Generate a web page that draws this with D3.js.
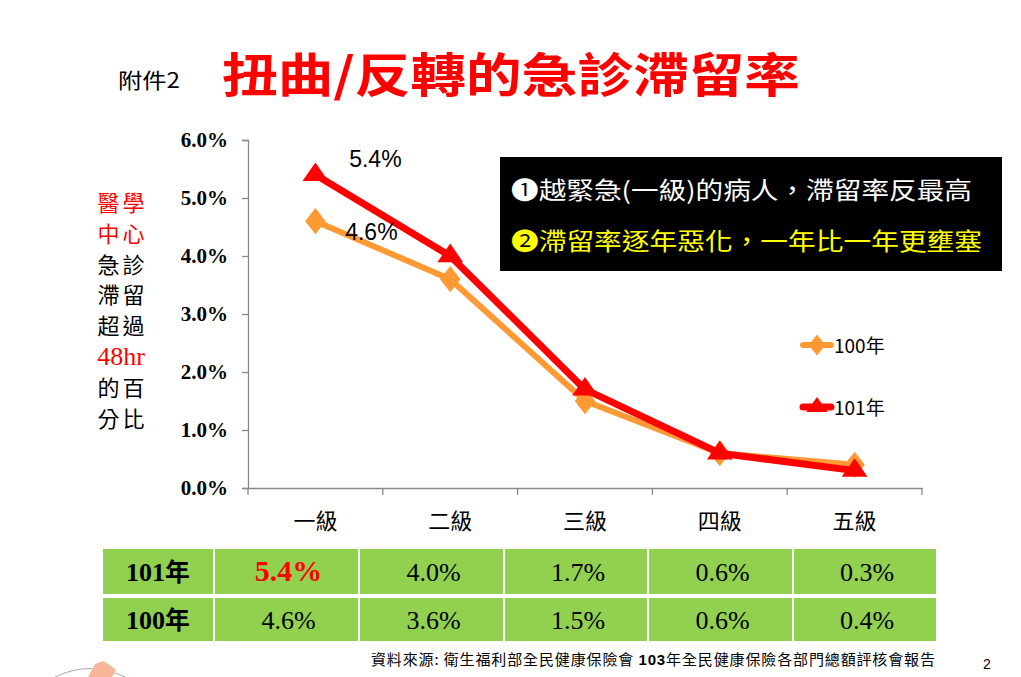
<!DOCTYPE html>
<html><head><meta charset="utf-8">
<script src="https://cdn.jsdelivr.net/npm/d3@7"></script>
<style>
html,body{margin:0;padding:0;background:#fff;}
svg{display:block;}
</style>
</head><body>
<svg id="c" width="1021" height="677"></svg>
<script>
const categories = ["一級","二級","三級","四級","五級"];
const series100 = [4.6, 3.6, 1.5, 0.6, 0.4];
const series101 = [5.4, 4.0, 1.7, 0.6, 0.3];
const yTicks = [0, 1, 2, 3, 4, 5, 6];
const seriesNames = ["100年","101年"];
const tableRows = [
  {name:"101年", values: series101},
  {name:"100年", values: series100}
];

const CJK = "'Noto Sans CJK TC','Noto Sans CJK SC',sans-serif";
const SERIF = "'Liberation Serif','DejaVu Serif',serif";
const SANS = "'Liberation Sans',Arial,sans-serif";

const svg = d3.select("#c");

// Titles
svg.append("text").attr("x",118).attr("y",88).attr("font-family",CJK)
  .attr("font-size",21).attr("fill","#000")
  .attr("textLength",62).attr("lengthAdjust","spacingAndGlyphs").text("附件2");
svg.append("text").attr("x",222).attr("y",92).attr("font-family",CJK)
  .attr("font-weight","bold").attr("font-size",47).attr("fill","#FF0000")
  .attr("textLength",578).attr("lengthAdjust","spacingAndGlyphs").text("扭曲/反轉的急診滯留率");

// Scales
const x = d3.scaleBand().domain(categories).range([248, 922]).paddingInner(0).paddingOuter(0);
const y = d3.scaleLinear().domain([0, 6]).range([488, 140]);
const cx = d => x(d) + x.bandwidth()/2;

// Y axis
const yAxis = d3.axisLeft(y).tickValues(yTicks).tickSize(6).tickPadding(14)
  .tickFormat(d => d3.format(".1f")(d) + "%");
const gy = svg.append("g").attr("transform","translate(248,0)").call(yAxis);
gy.select(".domain").attr("stroke","#888").attr("stroke-width",1.3);
gy.selectAll(".tick line").attr("stroke","#888").attr("stroke-width",1.3);
gy.selectAll(".tick text").attr("font-family",SERIF).attr("font-weight","bold")
  .attr("font-size",21).attr("fill","#000");

// X axis
const xAxis = d3.axisBottom(x).tickSize(0).tickPadding(25);
const gx = svg.append("g").attr("transform","translate(0,488)").call(xAxis);
gx.select(".domain").attr("stroke","#888").attr("stroke-width",1.3);
gx.selectAll(".tick text").attr("font-family",CJK).attr("font-size",22).attr("fill","#000");
// category boundary ticks
const bounds = categories.map(c => x(c)).concat([x.range()[1]]);
svg.append("g").selectAll("line").data(bounds).join("line")
  .attr("x1",d=>d).attr("x2",d=>d).attr("y1",488).attr("y2",495)
  .attr("stroke","#888").attr("stroke-width",1.3);

// Lines
const line = d3.line().x((d,i)=>cx(categories[i])).y(d=>y(d));
const ORANGE = "#FF9933", RED = "#FF0000";
svg.append("path").datum(series100).attr("d",line).attr("fill","none")
  .attr("stroke",ORANGE).attr("stroke-width",6).attr("stroke-linejoin","round");
const diamond = d3.symbol().type(d3.symbolDiamond).size(200);
svg.append("g").selectAll("path").data(series100).join("path")
  .attr("d",diamond).attr("fill",ORANGE)
  .attr("transform",(d,i)=>`translate(${cx(categories[i])},${y(d)}) scale(1.35,1)`);

svg.append("path").datum(series101).attr("d",line).attr("fill","none")
  .attr("stroke",RED).attr("stroke-width",7).attr("stroke-linejoin","round");
const tri = d3.symbol().type(d3.symbolTriangle).size(200);
svg.append("g").selectAll("path").data(series101).join("path")
  .attr("d",tri).attr("fill",RED)
  .attr("transform",(d,i)=>`translate(${cx(categories[i])},${y(d)}) scale(1.2,1)`);

// Data labels for first category
svg.append("text").attr("x",cx(categories[0])+60).attr("y",y(series101[0])-8)
  .attr("text-anchor","middle").attr("font-family",SANS).attr("font-size",23)
  .attr("fill","#000").text(d3.format(".1f")(series101[0])+"%");
svg.append("text").attr("x",cx(categories[0])+56).attr("y",y(series100[0])+19)
  .attr("text-anchor","middle").attr("font-family",SANS).attr("font-size",23)
  .attr("fill","#000").text(d3.format(".1f")(series100[0])+"%");

// Legend
const legend = [
  {name: seriesNames[0], color: ORANGE, sym: diamond, sc:"scale(1.1,0.8)", y:345, w:6},
  {name: seriesNames[1], color: RED, sym: tri, sc:"scale(1.0,0.8)", y:407, w:7}
];
const lg = svg.append("g").selectAll("g").data(legend).join("g");
lg.append("line").attr("x1",803).attr("x2",831).attr("y1",d=>d.y).attr("y2",d=>d.y)
  .attr("stroke",d=>d.color).attr("stroke-width",d=>d.w).attr("stroke-linecap","round");
lg.append("path").attr("d",d=>d.sym()).attr("fill",d=>d.color)
  .attr("transform",d=>`translate(817,${d.y}) ${d.sc}`);
lg.append("text").attr("x",834).attr("y",d=>d.y+8).attr("font-family",CJK)
  .attr("font-size",19).attr("fill","#000").text(d=>d.name);

// Black annotation box
svg.append("rect").attr("x",500).attr("y",157).attr("width",502).attr("height",114).attr("fill","#000");
svg.append("text").attr("x",511).attr("y",199).attr("font-family",CJK).attr("font-size",24)
  .attr("fill","#fff").attr("textLength",461).attr("lengthAdjust","spacingAndGlyphs")
  .text("❶越緊急(一級)的病人，滯留率反最高");
svg.append("text").attr("x",511).attr("y",250).attr("font-family",CJK).attr("font-size",24)
  .attr("fill","#FFFF00").attr("textLength",471).attr("lengthAdjust","spacingAndGlyphs")
  .text("❷滯留率逐年惡化，一年比一年更壅塞");

// Left vertical label
const leftLines = [
  {t:"醫學", c:"#FF0000"}, {t:"中心", c:"#FF0000"}, {t:"急診", c:"#000"},
  {t:"滯留", c:"#000"}, {t:"超過", c:"#000"}, {t:"48hr", c:"#FF0000", serif:true},
  {t:"的百", c:"#000"}, {t:"分比", c:"#000"}
];
svg.append("g").selectAll("text").data(leftLines).join("text")
  .attr("x",121).attr("y",(d,i)=>211+i*30.8).attr("text-anchor","middle")
  .attr("font-family",d=>d.serif?SERIF:CJK).attr("font-size",d=>d.serif?26:22)
  .attr("letter-spacing",d=>d.serif?0:3).attr("dx",d=>d.serif?0:1.5)
  .attr("fill",d=>d.c).text(d=>d.t);

// Table
const colX = [103, 215, 360, 505, 649, 794, 938];
const rowY = [[549,594],[598,641]];
const tg = svg.append("g");
tableRows.forEach((row, r) => {
  const [y0,y1] = rowY[r];
  const cells = [row.name].concat(row.values);
  cells.forEach((v, c) => {
    tg.append("rect").attr("x",colX[c]).attr("y",y0).attr("width",colX[c+1]-colX[c]-2)
      .attr("height",y1-y0).attr("fill","#92D050");
    const isHead = c===0;
    const isHighlight = r===0 && c===1;
    const t = tg.append("text").attr("x",(colX[c]+colX[c+1]-2)/2 + (isHead?0:2))
      .attr("y",(y0+y1)/2+9).attr("text-anchor","middle")
      .attr("font-size",isHighlight?30:26)
      .attr("fill",isHighlight?"#FF0000":"#000")
      .attr("font-weight",(isHead||isHighlight)?"bold":"normal")
      .attr("font-family",SERIF);
    if (isHead) {
      t.append("tspan").text(v.replace("年",""));
      t.append("tspan").attr("font-family",CJK).attr("font-size",25).text("年");
    } else {
      t.text(d3.format(".1f")(v)+"%");
    }
  });
});

// Source
const src = svg.append("text").attr("x",371).attr("y",665).attr("font-family",CJK)
  .attr("font-size",15).attr("fill","#000")
  .attr("textLength",564).attr("lengthAdjust","spacing");
src.append("tspan").text("資料來源: 衛生福利部全民健康保險會 ");
src.append("tspan").attr("font-family",SANS).attr("font-weight","bold").text("103");
src.append("tspan").text("年全民健康保險各部門總額評核會報告");
svg.append("text").attr("x",983).attr("y",669).attr("font-family",SANS).attr("font-size",14)
  .attr("fill","#000").text("2");

// faint logo remnant bottom-left
svg.append("path").attr("d","M55,677 Q90,660 125,677").attr("fill","none").attr("stroke","#aaa").attr("stroke-width",1);
svg.append("path").attr("d","M88,677 L95,664 L103,661 L110,665 L116,670 L112,677 Z").attr("fill","#F7B59A");
</script>
</body></html>
